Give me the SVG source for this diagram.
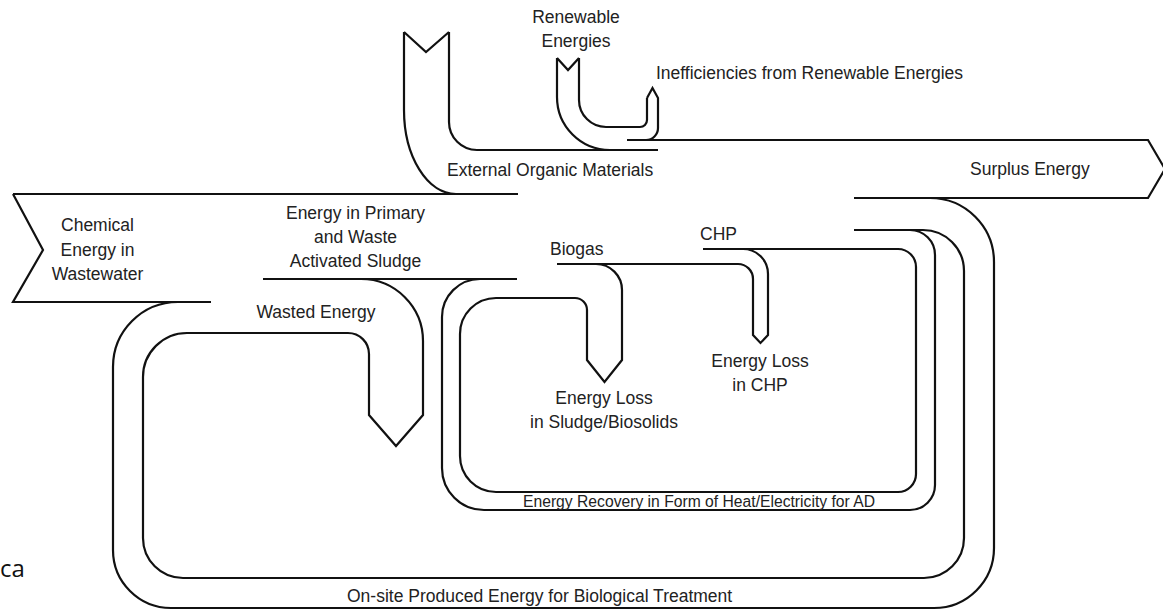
<svg xmlns="http://www.w3.org/2000/svg" width="1163" height="611" viewBox="0 0 1163 611">
<style>
.ln{fill:none;stroke:#111;stroke-width:2.2;stroke-linejoin:miter;stroke-linecap:butt}
.t{font-family:"Liberation Sans",Arial,Helvetica,sans-serif;font-size:17.5px;fill:#222}
.c{text-anchor:middle}
</style>
<rect width="1163" height="611" fill="#fff"/>
<g id="connectors">
  <path id="onsite-outer" class="ln" d="M930,198 A64,64 0 0 1 994,262 V548 A60,60 0 0 1 934,608 H171 A58,58 0 0 1 113,550 V367 A65,65 0 0 1 178,302"/>
  <path id="onsite-inner" class="ln" d="M361,279 A62,62 0 0 1 423,341 V415 L396,446 L369,415 V354 A21,21 0 0 0 348,333 H187 A44,44 0 0 0 143,377 V538 A40,40 0 0 0 183,578 H924 A40,40 0 0 0 964,538 V271 A41,41 0 0 0 923,230 H854"/>
  <path id="ad-outer" class="ln" d="M480,279 A38,38 0 0 0 442,317 V468 A42,42 0 0 0 484,510 H910 A25,25 0 0 0 935,485 V255 A25,25 0 0 0 910,230"/>
  <path id="ad-inner" class="ln" d="M703,249 H898 A18,18 0 0 1 916,267 V474 A18,18 0 0 1 898,492 H496 A36,36 0 0 1 460,456 V334 A36,36 0 0 1 496,298 H575 A12,12 0 0 1 587,310 V360 L604.5,382 L622,360 V290 A26,26 0 0 0 596,264"/>
  <text class="t" x="699" y="507" textLength="352" lengthAdjust="spacingAndGlyphs" text-anchor="middle" style="font-size:16px">Energy Recovery in Form of Heat/Electricity for AD</text>
  <text class="t" x="347" y="602">On-site Produced Energy for Biological Treatment</text>
</g>
<g id="node-chemical">
  <path class="ln" d="M13,194 H518 M13,194 L43,250 L13,302 H211"/>
  <text class="t c" x="97.5" y="231">Chemical</text>
  <text class="t c" x="97.5" y="256">Energy in</text>
  <text class="t c" x="97.5" y="280">Wastewater</text>
</g>
<g id="node-external-organic">
  <path class="ln" d="M404,32 L426,52 L449,32 M404,32 V110 A52,84 0 0 0 456,194 M449,32 V122 A28,28 0 0 0 477,150 H658"/>
  <text class="t" x="447" y="176">External Organic Materials</text>
</g>
<g id="node-renewable">
  <path class="ln" d="M557,58 L568,70 L579,58 M557,58 V97 A53,53 0 0 0 610,150 M579,58 V100 A27,27 0 0 0 606,127 H640 A7,7 0 0 0 647,120 V98"/>
  <text class="t c" x="576" y="23">Renewable</text>
  <text class="t c" x="576" y="47">Energies</text>
</g>
<g id="node-inefficiencies">
  <path class="ln" d="M647,98 L652.5,88 L658,98 V128 A12,12 0 0 1 646,140"/>
  <text class="t" x="656" y="79">Inefficiencies from Renewable Energies</text>
</g>
<g id="node-surplus">
  <path class="ln" d="M627,140 H1148 L1165,169 L1148,198 H854"/>
  <text class="t" x="970" y="175">Surplus Energy</text>
</g>
<g id="node-sludge">
  <path class="ln" d="M263,279 H517"/>
  <text class="t c" x="355.5" y="219">Energy in Primary</text>
  <text class="t c" x="355.5" y="243">and Waste</text>
  <text class="t c" x="355.5" y="267">Activated Sludge</text>
</g>
<g id="node-wasted">
  <text class="t c" x="316" y="318">Wasted Energy</text>
</g>
<g id="node-biogas">
  <path class="ln" d="M557,264 H738 A15,15 0 0 1 753,279 V335 L760.5,343 L768,335 V274 A25,25 0 0 0 743,249"/>
  <text class="t" x="550" y="255">Biogas</text>
</g>
<g id="node-loss-sludge">
  <text class="t c" x="604" y="404">Energy Loss</text>
  <text class="t c" x="604" y="428">in Sludge/Biosolids</text>
</g>
<g id="node-chp">
  <text class="t" x="700" y="240">CHP</text>
</g>
<g id="node-loss-chp">
  <text class="t c" x="760" y="367">Energy Loss</text>
  <text class="t c" x="760" y="391">in CHP</text>
</g>
<g id="fragment">
  <text x="0" y="577" style="font-family:'Open Sans','Noto Sans',sans-serif;font-size:24px;fill:#111">ca</text>
</g>
</svg>
